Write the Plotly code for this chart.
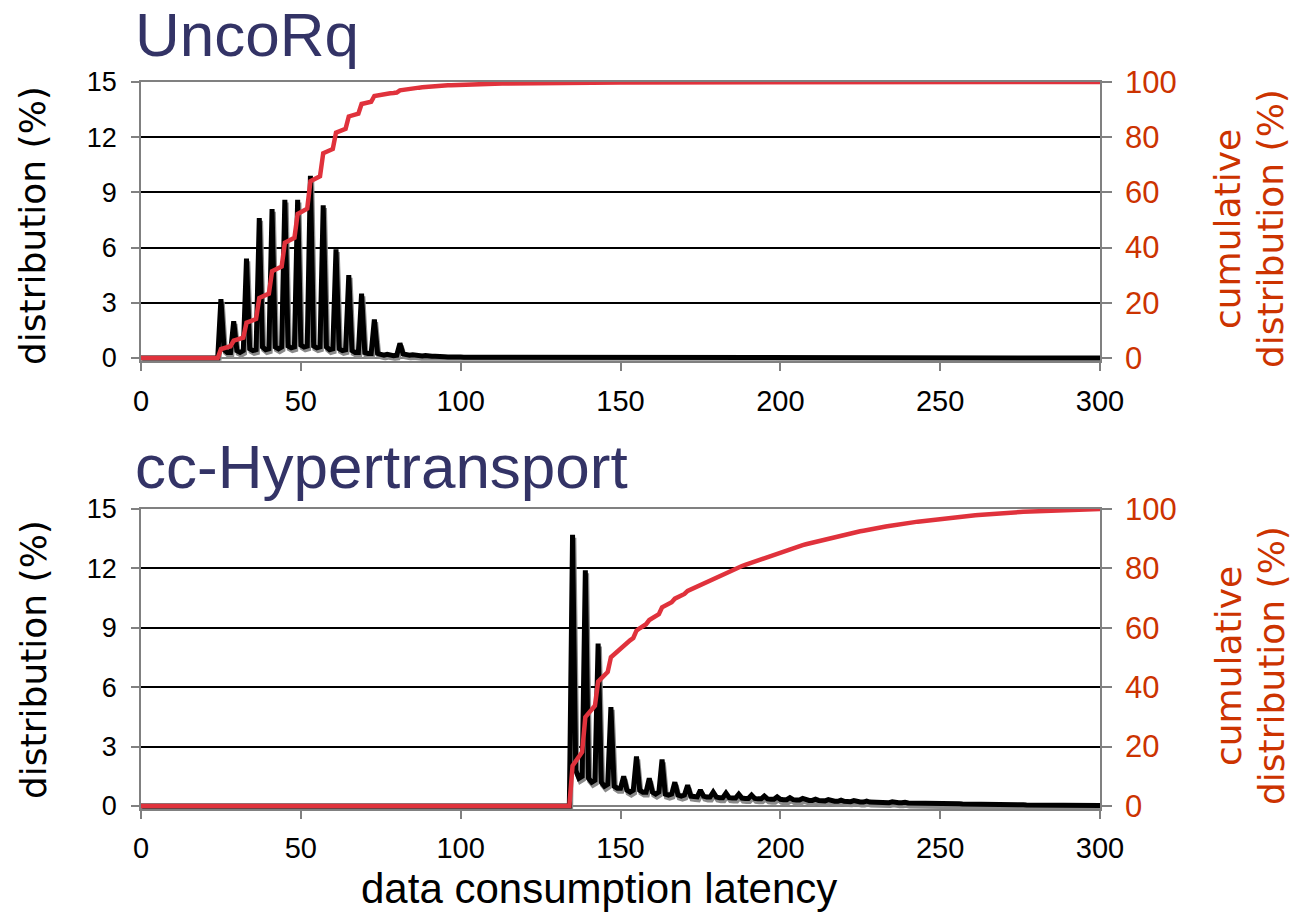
import numpy as np
import plotly.graph_objects as go

latency = list(range(0, 301))

# UncoRq distribution (%) per latency value 0..300
uncorq_dist = [
    0, 0, 0, 0, 0, 0, 0, 0, 0, 0,
    0, 0, 0, 0, 0, 0, 0, 0, 0, 0,
    0, 0, 0, 0, 0, 3.2, 0.45, 0.3, 0.3, 2.0,
    0.4, 0.3, 0.4, 5.4, 0.5, 0.4, 0.45, 7.6, 0.6, 0.45,
    0.5, 8.1, 0.6, 0.5, 0.6, 8.6, 0.65, 0.55, 0.6, 8.6,
    0.7, 0.6, 0.65, 9.9, 0.65, 0.55, 0.6, 8.3, 0.6, 0.45,
    0.5, 5.9, 0.5, 0.4, 0.45, 4.5, 0.4, 0.3, 0.3, 3.5,
    0.3, 0.25, 0.25, 2.1, 0.25, 0.2, 0.15, 0.2, 0.15, 0.12,
    0.15, 0.8, 0.22, 0.18, 0.15, 0.18, 0.14, 0.12, 0.11, 0.14,
    0.1, 0.09, 0.09, 0.1, 0.08, 0.07, 0.06, 0.07, 0.06, 0.05,
    0.05, 0.04, 0.04, 0.05, 0.04, 0.03, 0.03, 0.04, 0.03, 0.03,
    0.02, 0.03, 0.02, 0.02, 0.02, 0.02, 0.02, 0.01, 0.02, 0.02,
    0.01, 0.02, 0.01, 0.01, 0.02, 0.01, 0.01, 0.01, 0.01, 0.02,
    0.01, 0.01, 0.01, 0.01, 0.01, 0.01, 0.01, 0.01, 0.01, 0.01,
    0.01, 0.0, 0.01, 0.01, 0.0, 0.01, 0.0, 0.01, 0.0, 0.01,
    0.0, 0.01, 0.0, 0.0, 0.01, 0.0, 0.0, 0.01, 0.0, 0.0,
    0.01, 0.0, 0.0, 0.0, 0.01, 0.0, 0.0, 0.0, 0.01, 0.0,
    0.0, 0.0, 0.01, 0.0, 0.0, 0.0, 0.0, 0.01, 0.0, 0.0,
    0.0, 0.0, 0.0, 0.01, 0.0, 0.0, 0.0, 0.0, 0.0, 0.0,
    0.01, 0.0, 0.0, 0.0, 0.0, 0.0, 0.0, 0.0, 0.01, 0.0,
    0.0, 0.0, 0.0, 0.0, 0.0, 0.0, 0.01, 0.0, 0.0, 0.0,
    0.0, 0.0, 0.0, 0.0, 0.0, 0.0, 0.0, 0.0, 0.0, 0.01,
    0.0, 0.0, 0.0, 0.0, 0.0, 0.0, 0.0, 0.0, 0.0, 0.0,
    0.0, 0.0, 0.0, 0.01, 0.0, 0.0, 0.0, 0.0, 0.0, 0.0,
    0.0, 0.0, 0.0, 0.0, 0.0, 0.0, 0.0, 0.0, 0.0, 0.0,
    0.0, 0.0, 0.0, 0.0, 0.0, 0.0, 0.01, 0.0, 0.0, 0.0,
    0.0, 0.0, 0.0, 0.0, 0.0, 0.0, 0.0, 0.0, 0.0, 0.0,
    0.0, 0.0, 0.0, 0.0, 0.0, 0.0, 0.0, 0.0, 0.0, 0.0,
    0.0, 0.0, 0.0, 0.0, 0.0, 0.0, 0.0, 0.0, 0.0, 0.0,
    0.0, 0.0, 0.0, 0.0, 0.0, 0.0, 0.0, 0.0, 0.0, 0.0,
    0.0,
]

# cc-Hypertransport distribution (%) per latency value 0..300
ht_dist = [
    0, 0, 0, 0, 0, 0, 0, 0, 0, 0,
    0, 0, 0, 0, 0, 0, 0, 0, 0, 0,
    0, 0, 0, 0, 0, 0, 0, 0, 0, 0,
    0, 0, 0, 0, 0, 0, 0, 0, 0, 0,
    0, 0, 0, 0, 0, 0, 0, 0, 0, 0,
    0, 0, 0, 0, 0, 0, 0, 0, 0, 0,
    0, 0, 0, 0, 0, 0, 0, 0, 0, 0,
    0, 0, 0, 0, 0, 0, 0, 0, 0, 0,
    0, 0, 0, 0, 0, 0, 0, 0, 0, 0,
    0, 0, 0, 0, 0, 0, 0, 0, 0, 0,
    0, 0, 0, 0, 0, 0, 0, 0, 0, 0,
    0, 0, 0, 0, 0, 0, 0, 0, 0, 0,
    0, 0, 0, 0, 0, 0, 0, 0, 0, 0,
    0, 0, 0, 0, 0, 13.7, 1.8, 1.4, 1.5, 11.9,
    1.4, 1.2, 1.3, 8.2, 1.2, 1.0, 1.1, 5.0, 1.0, 0.9,
    0.9, 1.5, 0.8, 0.7, 0.8, 2.5, 0.8, 0.7, 0.7, 1.4,
    0.7, 0.6, 0.7, 2.35, 0.6, 0.55, 0.6, 1.2, 0.55, 0.5,
    0.55, 1.05, 0.5, 0.48, 0.46, 0.8, 0.5, 0.45, 0.45, 0.7,
    0.45, 0.42, 0.42, 0.65, 0.42, 0.4, 0.4, 0.6, 0.4, 0.38,
    0.38, 0.55, 0.38, 0.36, 0.36, 0.5, 0.36, 0.34, 0.34, 0.46,
    0.34, 0.32, 0.32, 0.42, 0.32, 0.3, 0.3, 0.38, 0.3, 0.28,
    0.28, 0.34, 0.28, 0.26, 0.26, 0.32, 0.26, 0.24, 0.24, 0.3,
    0.24, 0.22, 0.22, 0.27, 0.22, 0.2, 0.2, 0.25, 0.2, 0.19,
    0.19, 0.23, 0.18, 0.17, 0.17, 0.21, 0.17, 0.16, 0.16, 0.19,
    0.15, 0.15, 0.14, 0.17, 0.14, 0.13, 0.13, 0.16, 0.13, 0.12,
    0.12, 0.14, 0.12, 0.11, 0.11, 0.13, 0.11, 0.1, 0.1, 0.12,
    0.1, 0.09, 0.09, 0.11, 0.09, 0.08, 0.08, 0.1, 0.08, 0.07,
    0.07, 0.09, 0.07, 0.06, 0.06, 0.08, 0.06, 0.05, 0.05, 0.07,
    0.05, 0.05, 0.04, 0.06, 0.04, 0.04, 0.04, 0.05, 0.04, 0.03,
    0.03, 0.05, 0.03, 0.03, 0.03, 0.04, 0.03, 0.02, 0.02, 0.04,
    0.03,
]

panel_titles = ["UncoRq", "cc-Hypertransport"]
x_ticks = [0, 50, 100, 150, 200, 250, 300]
left_ticks = [0, 3, 6, 9, 12, 15]
right_ticks = [0, 20, 40, 60, 80, 100]

W, H = 1293, 913
BLACK = "#000000"
SHADOW = "#8a8a8a"
RED = "#e0323c"
ORANGE = "#cc3300"
NAVY = "#333366"
AXIS = "#808080"

# pixel layout
x0, x1 = 141, 1100
panels = [
    dict(top=82, zero=358, title_y=35, ltitle_y=226, rtitle_y=229),
    dict(top=509, zero=806, title_y=466, ltitle_y=660, rtitle_y=666),
]
PAD = 0.15  # small pad below zero (in % units of left axis)

fig = go.Figure()
layout = dict(
    width=W, height=H,
    margin=dict(l=0, r=0, t=0, b=0, autoexpand=False),
    paper_bgcolor="white", plot_bgcolor="white",
    showlegend=False,
    annotations=[],
)

datasets = [uncorq_dist, ht_dist]
for i, (dist, p) in enumerate(zip(datasets, panels)):
    n = i + 1
    xa = "x" if n == 1 else f"x{n}"
    ya = "y" if n == 1 else f"y{2*n-1}"
    ya2 = f"y{2*n}"
    d = np.array(dist, dtype=float)
    cum = 100.0 * np.cumsum(d) / d.sum()
    lat = np.array(latency, dtype=float)

    # drop shadow of the distribution line
    fig.add_trace(go.Scatter(x=lat + 0.4, y=d - 0.15, mode="lines",
                             line=dict(color=SHADOW, width=5),
                             xaxis=xa, yaxis=ya, hoverinfo="skip"))
    fig.add_trace(go.Scatter(x=lat, y=d, mode="lines",
                             line=dict(color=BLACK, width=5),
                             xaxis=xa, yaxis=ya))
    fig.add_trace(go.Scatter(x=lat, y=cum, mode="lines",
                             line=dict(color=RED, width=4.5),
                             xaxis=xa, yaxis=ya2))

    scale = (p["zero"] - p["top"]) / 15.0
    bottom_px = p["zero"] + PAD * scale
    ydom = [1 - bottom_px / H, 1 - p["top"] / H]
    xdom = [x0 / W, x1 / W]

    xkey = "xaxis" if n == 1 else f"xaxis{n}"
    ykey = "yaxis" if n == 1 else f"yaxis{2*n-1}"
    y2key = f"yaxis{2*n}"
    ylname = "y" if n == 1 else f"y{2*n-1}"

    layout[xkey] = dict(
        domain=xdom, anchor=ylname, range=[0, 300], automargin=False,
        tickvals=x_ticks, ticks="outside", ticklen=8, tickcolor=AXIS,
        tickwidth=1.5, showline=True, linecolor=AXIS, linewidth=1.5,
        mirror=True, showgrid=False, zeroline=False,
        tickfont=dict(family="Liberation Sans, Arial", size=29, color="black"),
        ticklabelstandoff=6 if n == 1 else 4,
    )
    layout[ykey] = dict(
        domain=ydom, anchor=xa, range=[-PAD, 15], automargin=False,
        tickvals=left_ticks, ticks="outside", ticklen=8, tickcolor=AXIS,
        tickwidth=1.5, showline=True, linecolor=AXIS, linewidth=1.5,
        showgrid=True, gridcolor="black", gridwidth=2,
        zeroline=True, zerolinecolor=AXIS, zerolinewidth=1.5,
        tickfont=dict(family="Liberation Sans, Arial", size=27, color="black"),
        ticklabelstandoff=9,
    )
    layout[y2key] = dict(
        overlaying=ylname, side="right", anchor=xa, automargin=False,
        range=[-PAD * 100 / 15, 100],
        tickvals=right_ticks, ticks="outside", ticklen=10, tickcolor=AXIS,
        tickwidth=1.5, showline=True, linecolor=AXIS, linewidth=1.5,
        showgrid=False, zeroline=False,
        tickfont=dict(family="Liberation Sans, Arial", size=31, color=ORANGE),
        ticklabelstandoff=7,
    )

    layout["annotations"] += [
        dict(text=panel_titles[i], xref="paper", yref="paper",
             x=133 / W, y=1 - p["title_y"] / H, xanchor="left", yanchor="middle",
             showarrow=False,
             font=dict(family="Liberation Sans, Arial", size=62, color=NAVY)),
        dict(text="distribution (%)", xref="paper", yref="paper",
             x=33 / W, y=1 - p["ltitle_y"] / H, xanchor="center", yanchor="middle",
             textangle=-90, showarrow=False,
             font=dict(family="DejaVu Sans", size=36, color="black")),
        dict(text="cumulative", xref="paper", yref="paper",
             x=1228 / W, y=1 - p["rtitle_y"] / H, xanchor="center", yanchor="middle",
             textangle=-90, showarrow=False,
             font=dict(family="DejaVu Sans", size=36, color=ORANGE)),
        dict(text="distribution (%)", xref="paper", yref="paper",
             x=1271 / W, y=1 - p["rtitle_y"] / H, xanchor="center", yanchor="middle",
             textangle=-90, showarrow=False,
             font=dict(family="DejaVu Sans", size=36, color=ORANGE)),
    ]

layout["annotations"].append(
    dict(text="data consumption latency", xref="paper", yref="paper",
         x=599 / W, y=1 - 888 / H, xanchor="center", yanchor="middle",
         showarrow=False,
         font=dict(family="Liberation Sans, Arial", size=42, color="black")))

fig.update_layout(**layout)
fig.write_html(
    "out.html",
    config={"displayModeBar": False},
    post_script="document.body.style.margin='0';document.body.style.overflow='hidden';",
)
